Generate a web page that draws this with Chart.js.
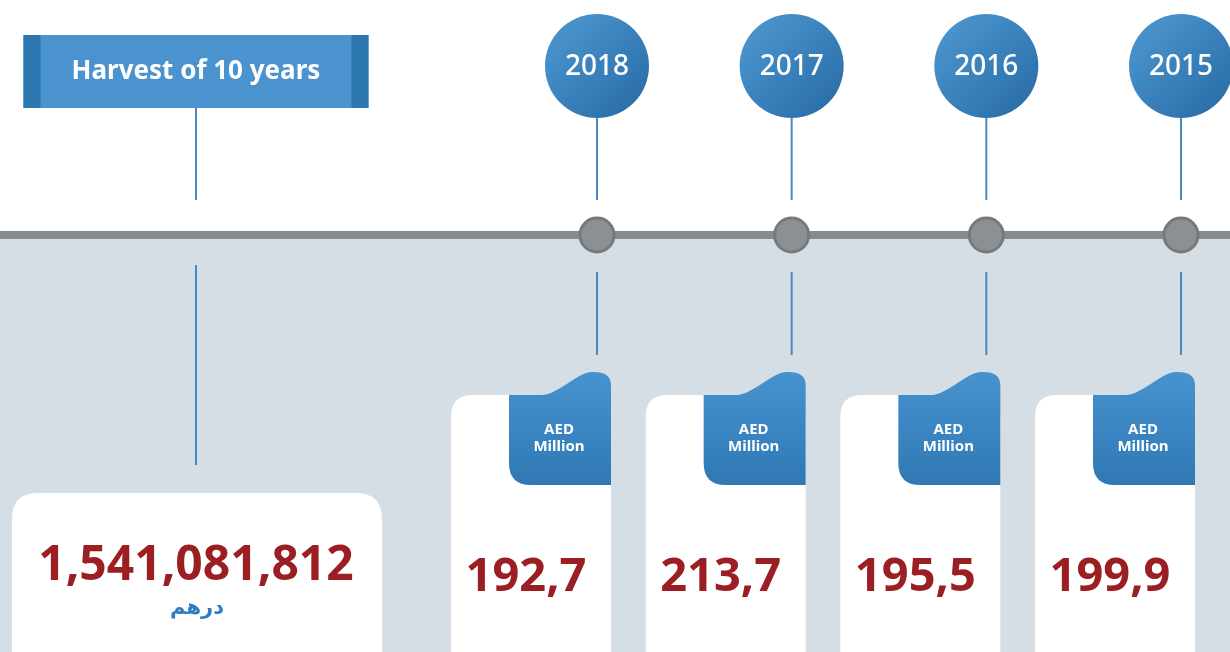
<!DOCTYPE html>
<html>
<head>
<meta charset="utf-8">
<script src="https://cdn.jsdelivr.net/npm/chart.js@4/dist/chart.umd.min.js"></script>
<style>
  html, body { margin:0; padding:0; background:#fff; overflow:hidden; }
  #wrap { width:1230px; height:652px; }
</style>
</head>
<body>
<div id="wrap"><canvas id="timeline" width="1230" height="652"></canvas></div>
<script>
// ---- data ----
const years      = ['2018', '2017', '2016', '2015'];
const valuesAED  = [192.7, 213.7, 195.5, 199.9];   // AED million
const totalAED   = 1541081812;
const titleText  = 'Harvest of 10 years';
const unitLines  = ['AED', 'Million'];
const totalUnit  = 'درهم';
const totalSlot  = -2.06;   // where the total sits on the timeline axis

// ---- colours ----
const BLUE = '#4a93cf', BLUE_DK = '#2c77b0', STEM = '#4a88c4';
const RED = '#9b1e22', GREY_LINE = '#878b8e', FLOOR = '#d5dde5';

const fmtVal = v => v.toFixed(1).replace('.', ',');

function roundRect(ctx, x, y, w, h, r) {
  ctx.beginPath();
  ctx.moveTo(x + r, y);
  ctx.lineTo(x + w - r, y); ctx.quadraticCurveTo(x + w, y, x + w, y + r);
  ctx.lineTo(x + w, y + h - r); ctx.quadraticCurveTo(x + w, y + h, x + w - r, y + h);
  ctx.lineTo(x + r, y + h); ctx.quadraticCurveTo(x, y + h, x, y + h - r);
  ctx.lineTo(x, y + r); ctx.quadraticCurveTo(x, y, x + r, y);
  ctx.closePath();
}

function stem(ctx, x, y1, y2) {
  ctx.strokeStyle = STEM; ctx.lineWidth = 2;
  ctx.beginPath(); ctx.moveTo(x, y1); ctx.lineTo(x, y2); ctx.stroke();
}

const infographic = {
  id: 'infographic',
  beforeDatasetsDraw(chart) {
    const { ctx, scales: { x, y } } = chart;
    const lineY = y.getPixelForValue(0);
    const W = chart.width, H = chart.height;
    ctx.save();

    // backdrop: white top half, grey-blue floor
    ctx.fillStyle = '#ffffff'; ctx.fillRect(0, 0, W, lineY);
    ctx.fillStyle = FLOOR; ctx.fillRect(0, lineY - 3, W, H);
    ctx.fillStyle = GREY_LINE; ctx.fillRect(0, lineY - 4, W, 8);

    // total: title banner + card
    const tx = x.getPixelForValue(totalSlot);
    const bw = 345, bx = tx - bw / 2;
    ctx.fillStyle = BLUE; ctx.fillRect(bx, 35, bw, 73);
    ctx.fillStyle = BLUE_DK; ctx.fillRect(bx, 35, 17, 73); ctx.fillRect(bx + bw - 17, 35, 17, 73);
    ctx.fillStyle = '#fff'; ctx.textAlign = 'center'; ctx.textBaseline = 'middle';
    ctx.font = 'bold 26px "Noto Sans"';
    ctx.fillText(titleText, tx, 72);
    stem(ctx, tx, 108, 200);
    stem(ctx, tx, 265, 465);
    ctx.fillStyle = '#fff';
    roundRect(ctx, tx - 184, 493, 370, 190, 26); ctx.fill();
    ctx.fillStyle = RED; ctx.font = 'bold 48px "Noto Sans"';
    ctx.fillText(totalAED.toLocaleString('en-US'), tx, 566);
    ctx.fillStyle = '#2f7dc0'; ctx.font = 'bold 21px "DejaVu Sans"';
    ctx.fillText(totalUnit, tx + 1, 609);

    // yearly pins and cards
    years.forEach((yr, i) => {
      const cx = x.getPixelForValue(i);
      // year bubble
      const r = 52, cy = 66;
      const g = ctx.createLinearGradient(cx - r, cy - r, cx + r, cy + r);
      g.addColorStop(0, '#4f9ad4'); g.addColorStop(1, '#2669a3');
      ctx.fillStyle = g;
      ctx.beginPath(); ctx.arc(cx, cy, r, 0, Math.PI * 2); ctx.fill();
      ctx.fillStyle = '#fff'; ctx.font = '500 28px "Noto Sans"';
      ctx.fillText(yr, cx, cy + 1);
      stem(ctx, cx, cy + r, 200);
      stem(ctx, cx, 272, 355);

      // white card
      const L = cx - 146, R = cx + 14;
      ctx.fillStyle = '#fff';
      roundRect(ctx, L, 395, R - L, 290, 22); ctx.fill();

      // blue tab with slanted top
      const tl = cx - 88;
      const tg = ctx.createLinearGradient(0, 372, 0, 485);
      tg.addColorStop(0, '#4693d0'); tg.addColorStop(1, '#2f78b4');
      ctx.fillStyle = tg;
      ctx.beginPath();
      ctx.moveTo(tl, 395);
      ctx.lineTo(cx - 55, 395);
      ctx.bezierCurveTo(cx - 40, 395, cx - 20, 373, cx - 6, 372);
      ctx.quadraticCurveTo(R, 371, R, 385);
      ctx.lineTo(R, 485);
      ctx.lineTo(tl + 22, 485);
      ctx.quadraticCurveTo(tl, 485, tl, 463);
      ctx.closePath(); ctx.fill();
      ctx.fillStyle = '#fff'; ctx.font = 'bold 15px "Noto Sans"';
      ctx.fillText(unitLines[0], cx - 38, 430);
      ctx.fillText(unitLines[1], cx - 38, 447);

      // value
      ctx.fillStyle = RED; ctx.font = 'bold 47px "Noto Sans"';
      ctx.fillText(fmtVal(valuesAED[i]), cx - 71, 578);
    });
    ctx.restore();
  }
};

new Chart(document.getElementById('timeline'), {
  type: 'scatter',
  data: {
    datasets: [{
      label: 'timeline nodes',
      data: years.map((yr, i) => ({ x: i, y: 0 })),
      pointRadius: 17,
      pointHoverRadius: 17,
      pointBackgroundColor: '#8c9093',
      pointBorderColor: '#767a7d',
      pointBorderWidth: 3
    }]
  },
  options: {
    responsive: false,
    animation: false,
    layout: { padding: 0 },
    plugins: { legend: { display: false }, tooltip: { enabled: false } },
    scales: {
      x: { type: 'linear', display: false, min: -2.964, max: 3.149 },
      y: { type: 'linear', display: false, min: -1.847, max: 1 }
    }
  },
  plugins: [infographic]
});
</script>
</body>
</html>
